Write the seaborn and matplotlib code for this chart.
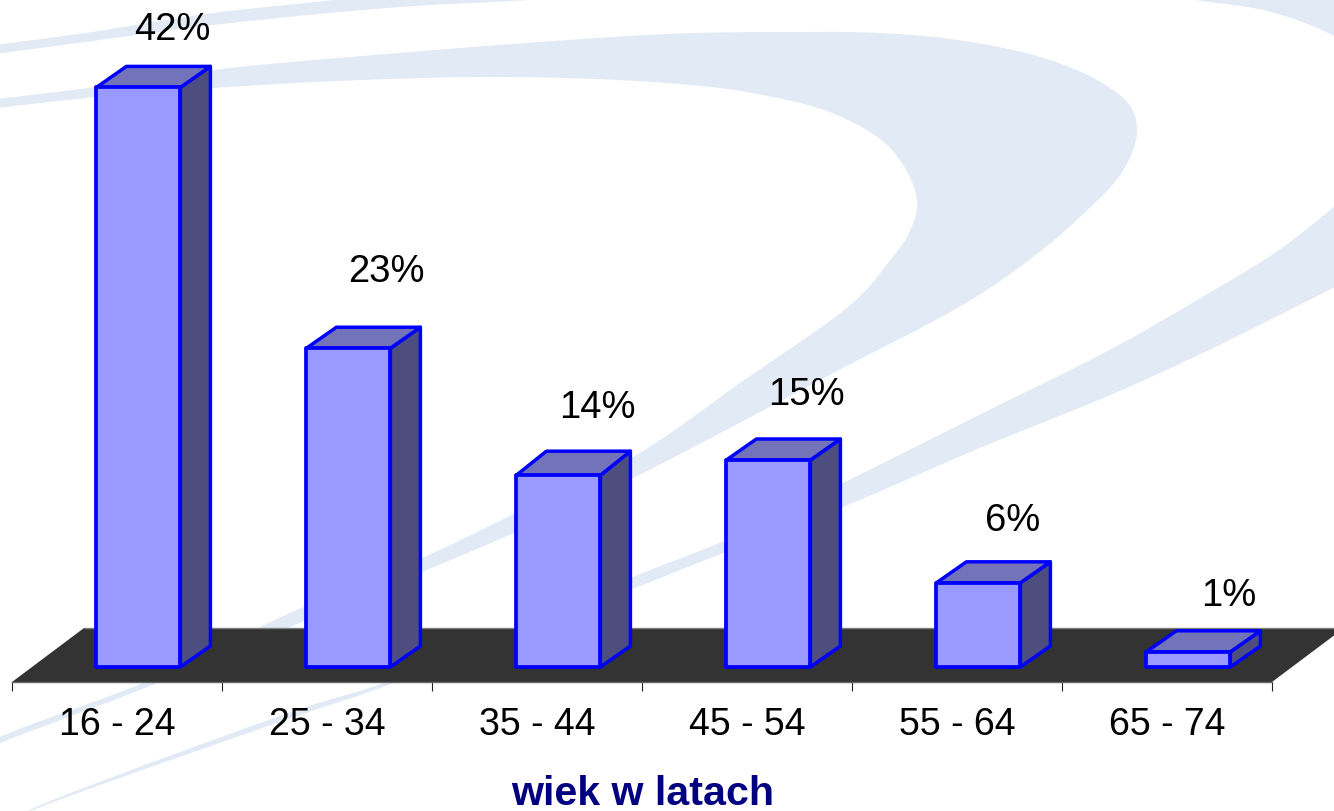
import numpy as np
import matplotlib
matplotlib.use("Agg")
import matplotlib.pyplot as plt
import seaborn as sns

# ---------- data ----------
age_groups = ["16 - 24", "25 - 34", "35 - 44", "45 - 54", "55 - 64", "65 - 74"]
shares = [42.0, 23.1, 13.9, 15.0, 6.1, 1.1]
x_title = "wiek w latach"

# ---------- layout (pixels of the 1334x811 picture) ----------
W, H = 1334, 811
PX_PER_UNIT = 13.8
PX_PER_CAT = 210.0
BASE_PX = 667          # y pixel of value 0
AXIS_PX = 682          # y pixel of the category axis
FIRST_BAR_PX = 138.4   # x pixel of first bar centre
AX_LEFT, AX_RIGHT = 12, 1272
DEPTH_X = 30
DEPTH_Y = 21
TOP_DEPTHS = [21, 21, 24, 21, 21, 21]
FLOOR_BACK = (72, 54)
LABEL_OFFSETS = [(34, 36), (38, 55), (39, 43), (38, 44), (34, 41), (40, 35)]

BAND = "#E2EAF5"
FRONT = "#9999FF"
SIDE = "#4D4D80"
TOP = "#7373BA"
EDGE = "#0000FF"
FLOOR = "#333333"
NAVY = "#000080"

# ---------- decorative background outlines ----------
band1_upper = [(-20, 47), (85, 33), (213, 13), (332, 0), (360, -5)]
band1_lower = [(-20, 56), (85, 42), (213, 25), (400, 7), (528, 0), (560, -3)]
sw_outer = [(-20, 101), (96, 87), (213, 70), (362, 56), (667, 34), (795, 32), (880, 33),
            (965, 41), (1050, 60), (1104, 84), (1131, 107), (1137, 130), (1133, 150),
            (1118, 178), (1080, 217), (1042, 250), (971, 300), (839, 370), (633, 478),
            (516, 532), (422, 572), (290, 627), (150, 686), (0, 743), (-40, 760)]
sw_inner = [(-20, 110), (96, 97), (213, 88), (362, 80), (510, 77), (667, 83),
            (752, 93), (837, 115), (892, 150), (917, 200), (909, 233), (888, 263),
            (856, 300), (740, 383), (633, 457), (516, 513), (422, 558), (290, 613),
            (150, 680), (0, 737), (-40, 758)]
sw2_upper = [(1345, 198), (1279, 250), (1209, 293), (1115, 347), (975, 417), (843, 483),
             (726, 540), (630, 578), (383, 683), (303, 708), (43, 804), (20, 815)]
sw2_lower = [(1345, 282), (1209, 350), (1115, 393), (975, 450), (843, 507), (726, 552),
             (630, 590), (383, 687), (303, 714), (43, 806), (20, 816)]
corner_edge = [(1195, 0), (1263, 10), (1305, 23), (1334, 36), (1345, 42)]


def smooth(points, n=16):
    """Centripetal Catmull-Rom curve through outline points."""
    p = np.asarray(points, float)
    p = np.vstack([2 * p[0] - p[1], p, 2 * p[-1] - p[-2]])
    out = []
    for i in range(1, len(p) - 2):
        p0, p1, p2, p3 = p[i - 1], p[i], p[i + 1], p[i + 2]
        t0 = 0.0
        t1 = t0 + np.linalg.norm(p1 - p0) ** 0.5
        t2 = t1 + np.linalg.norm(p2 - p1) ** 0.5
        t3 = t2 + np.linalg.norm(p3 - p2) ** 0.5
        for t in np.linspace(t1, t2, n, endpoint=False):
            a1 = (t1 - t) / (t1 - t0) * p0 + (t - t0) / (t1 - t0) * p1
            a2 = (t2 - t) / (t2 - t1) * p1 + (t - t1) / (t2 - t1) * p2
            a3 = (t3 - t) / (t3 - t2) * p2 + (t - t2) / (t3 - t2) * p3
            b1 = (t2 - t) / (t2 - t0) * a1 + (t - t0) / (t2 - t0) * a2
            b2 = (t3 - t) / (t3 - t1) * a2 + (t - t1) / (t3 - t1) * a3
            out.append((t2 - t) / (t2 - t1) * b1 + (t - t1) / (t2 - t1) * b2)
    out.append(p[-2])
    return np.array(out)


sns.set_theme(style="white")
plt.rcParams["font.family"] = ["Liberation Sans", "DejaVu Sans"]

fig = plt.figure(figsize=(W / 100, H / 100), dpi=100, facecolor="white")

# background layer in pixel coordinates
bg = fig.add_axes([0, 0, 1, 1], zorder=0)
bg.set_xlim(0, W)
bg.set_ylim(H, 0)
bg.axis("off")
for a, b in [(band1_upper, band1_lower), (sw_outer, sw_inner), (sw2_upper, sw2_lower)]:
    outline = np.vstack([smooth(a), smooth(b)[::-1]])
    bg.fill(outline[:, 0], outline[:, 1], color=BAND, lw=0)
ce = smooth(corner_edge)
ce = np.vstack([ce, [(1345, -5), (1195, -5)]])
bg.fill(ce[:, 0], ce[:, 1], color=BAND, lw=0)

# chart layer
ax = fig.add_axes([AX_LEFT / W, 1 - AXIS_PX / H, (AX_RIGHT - AX_LEFT) / W, AXIS_PX / H], zorder=1)
ax.patch.set_alpha(0)
sns.barplot(x=age_groups, y=shares, width=84 / PX_PER_CAT, color=FRONT, saturation=1,
            edgecolor=EDGE, linewidth=2.7, ax=ax, zorder=5)

ax.set_xlim((AX_LEFT - FIRST_BAR_PX) / PX_PER_CAT, (AX_RIGHT - FIRST_BAR_PX) / PX_PER_CAT)
y_min = -(AXIS_PX - BASE_PX) / PX_PER_UNIT
ax.set_ylim(y_min, BASE_PX / PX_PER_UNIT)

dx, dy = DEPTH_X / PX_PER_CAT, DEPTH_Y / PX_PER_UNIT
fx, fy = FLOOR_BACK[0] / PX_PER_CAT, FLOOR_BACK[1] / PX_PER_UNIT
x0, x1 = ax.get_xlim()

# floor parallelogram
ax.fill([x0, x1, x1 + fx, x0 + fx], [y_min, y_min, y_min + fy, y_min + fy],
        color=FLOOR, lw=0, zorder=1, clip_on=False)
ax.plot([x0 + fx, x1 + fx], [y_min + fy] * 2, color="#808080", lw=1, zorder=1.5,
        clip_on=False, solid_capstyle="butt")

# depth faces and value labels, derived from the bars
for bar, value, depth_px, (ox, oy) in zip(ax.patches, shares, TOP_DEPTHS, LABEL_OFFSETS):
    bar.set_joinstyle("round")
    l, r, t = bar.get_x(), bar.get_x() + bar.get_width(), bar.get_height()
    tdy = depth_px / PX_PER_UNIT
    ax.fill([r, r + dx, r + dx, r], [0, dy, t + tdy, t], facecolor=SIDE, edgecolor=EDGE,
            lw=2.5, zorder=3, joinstyle="round", clip_on=False)
    ax.fill([l, r, r + dx, l + dx], [t, t, t + tdy, t + tdy], facecolor=TOP, edgecolor=EDGE,
            lw=2.5, zorder=3, joinstyle="round", clip_on=False)
    centre = (l + r) / 2
    ax.annotate(f"{value:.0f}%", xy=(centre, t + tdy),
                xytext=(ox * 0.72, oy * 0.72), textcoords="offset points",
                ha="center", va="center", fontsize=27.5, color="black",
                annotation_clip=False, zorder=6)

# axis: labels centred between boundary ticks
boundaries = np.arange(7) + x0
centres = boundaries[:-1] + 0.5
ax.set_xticks(centres)
ax.set_xticklabels(age_groups, fontsize=27, color="black")
ax.set_xticks(boundaries, minor=True)
ax.tick_params(axis="x", which="major", length=0, pad=18)
ax.tick_params(axis="x", which="minor", length=6.5, width=0.8, color="#222222", bottom=True)
ax.set_yticks([])
sns.despine(ax=ax, left=True, top=True, right=True)
ax.spines["bottom"].set_color("#666666")
ax.spines["bottom"].set_linewidth(1.0)
ax.set_xlabel("")
ax.grid(False)

fig.text(642.5 / W, 1 - 794 / H, x_title, ha="center", va="center", fontsize=29.6,
         fontweight="bold", color=NAVY)

fig.savefig("out.png", dpi=100)
